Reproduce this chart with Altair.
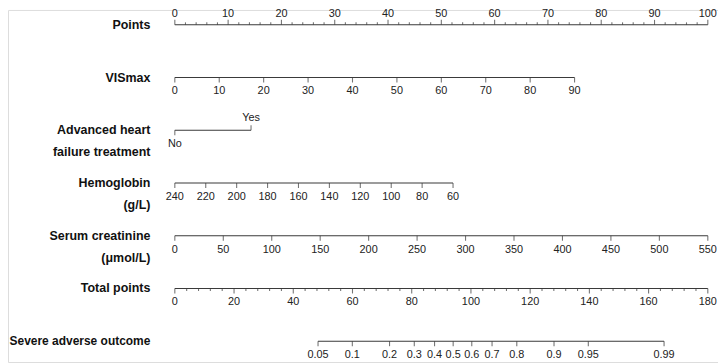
import math
import altair as alt
import pandas as pd

# ---------------- data ----------------
row_names = [
    "Points",
    "VISmax",
    "Advanced heart\nfailure treatment",
    "Hemoglobin\n(g/L)",
    "Serum creatinine\n(μmol/L)",
    "Total points",
    "Severe adverse outcome",
]

points_major = list(range(0, 101, 10))
points_minor = [v for v in range(0, 101, 2) if v % 10]

vis_ticks = list(range(0, 91, 10))
vis_points_per_unit = 75.0 / 90.0

ahf_levels = ["No", "Yes"]
ahf_points = [0.0, 14.3]

hb_ticks = list(range(240, 59, -20))
hb_points_per_unit = 52.2 / 180.0

cr_ticks = list(range(0, 551, 50))
cr_points_per_unit = 100.0 / 550.0

total_major = list(range(0, 181, 20))
total_minor = [v for v in range(0, 181, 4) if v % 20]
total_max = 180.0

prob_ticks = [0.05, 0.1, 0.2, 0.3, 0.4, 0.5, 0.6, 0.7, 0.8, 0.9, 0.95, 0.99]
total_at_p50 = 94.0
total_per_logit = 15.5

# ---------------- build tables ----------------
ticks, labels, lines = [], [], []


def add_axis(row, xs, texts, side, minor=None):
    lines.append({"row": row, "x": min(xs), "x2": max(xs)})
    for x, t in zip(xs, texts):
        ticks.append({"row": row, "x": x, "kind": "major", "side": side})
        labels.append({"row": row, "x": x, "text": t, "side": side})
    for x in (minor or []):
        ticks.append({"row": row, "x": x, "kind": "minor", "side": side})


add_axis(0, points_major, [str(v) for v in points_major], "up", points_minor)
add_axis(1, [v * vis_points_per_unit for v in vis_ticks], [str(v) for v in vis_ticks], "down")
# categorical variable: No below, Yes above
lines.append({"row": 2, "x": min(ahf_points), "x2": max(ahf_points)})
ticks.append({"row": 2, "x": ahf_points[0], "kind": "major", "side": "down"})
labels.append({"row": 2, "x": ahf_points[0], "text": ahf_levels[0], "side": "down"})
ticks.append({"row": 2, "x": ahf_points[1], "kind": "major", "side": "up"})
labels.append({"row": 2, "x": ahf_points[1], "text": ahf_levels[1], "side": "up2"})
add_axis(3, [(240 - v) * hb_points_per_unit for v in hb_ticks], [str(v) for v in hb_ticks], "down")
add_axis(4, [v * cr_points_per_unit for v in cr_ticks], [str(v) for v in cr_ticks], "down")
add_axis(5, [v * 100.0 / total_max for v in total_major], [str(v) for v in total_major], "down",
         [v * 100.0 / total_max for v in total_minor])
prob_x = [(total_at_p50 + total_per_logit * math.log(p / (1 - p))) * 100.0 / total_max for p in prob_ticks]
add_axis(6, prob_x, [f"{p:g}" for p in prob_ticks], "down")

ticks_df = pd.DataFrame(ticks)
labels_df = pd.DataFrame(labels)
lines_df = pd.DataFrame(lines)
rows_df = pd.DataFrame({"row": list(range(len(row_names))), "name": row_names})

# ---------------- scales ----------------
xs = alt.Scale(domain=[-31.30, 101.91], nice=False, zero=False)
ys = alt.Scale(domain=[-0.28125, 6.39375], nice=False, zero=False, reverse=True)
X = lambda f="x": alt.X(f"{f}:Q", scale=xs, axis=None)
Y = alt.Y("row:Q", scale=ys, axis=None)

LINE = "#3a3a3a"
TXT = "#222222"
FONT = "Liberation Sans"

base_rule = alt.Chart(lines_df).mark_rule(color=LINE, strokeWidth=1.1).encode(
    x=X(), x2="x2:Q", y=Y
)


def tick_layer(kind, side, length):
    off = -length / 2 if side == "up" else length / 2
    return alt.Chart(ticks_df).transform_filter(
        (alt.datum.kind == kind) & (alt.datum.side == side)
    ).mark_tick(orient="vertical", size=length, thickness=1.1, color=LINE, yOffset=off).encode(
        x=X(), y=Y
    )


def label_layer(side, dy):
    return alt.Chart(labels_df).transform_filter(alt.datum.side == side).mark_text(
        font=FONT, fontSize=11, color=TXT, baseline="middle", align="center", dy=dy
    ).encode(x=X(), y=Y, text="text:N")


def row_label_layer(cond, size):
    return alt.Chart(rows_df).transform_filter(cond).mark_text(
        font=FONT, fontSize=size, fontWeight="bold", color="#111111", align="right",
        baseline="middle", lineBreak="\n", lineHeight=22.5
    ).encode(x=alt.value(144), y=Y, text="name:N")


chart = alt.layer(
    base_rule,
    tick_layer("major", "up", 5),
    tick_layer("major", "down", 5),
    tick_layer("minor", "up", 2.5),
    tick_layer("minor", "down", 2.5),
    label_layer("up", -10.5),
    label_layer("up2", -12.5),
    label_layer("down", 14),
    row_label_layer(alt.datum.row < 6, 12.6),
    row_label_layer(alt.datum.row == 6, 12.1),
).properties(
    width=718, height=356, autosize=alt.AutoSizeParams(type="none"), padding=0
).configure_view(stroke=None).configure(background="white")

chart.save("out.html", embed_options={"renderer": "svg", "actions": False})
